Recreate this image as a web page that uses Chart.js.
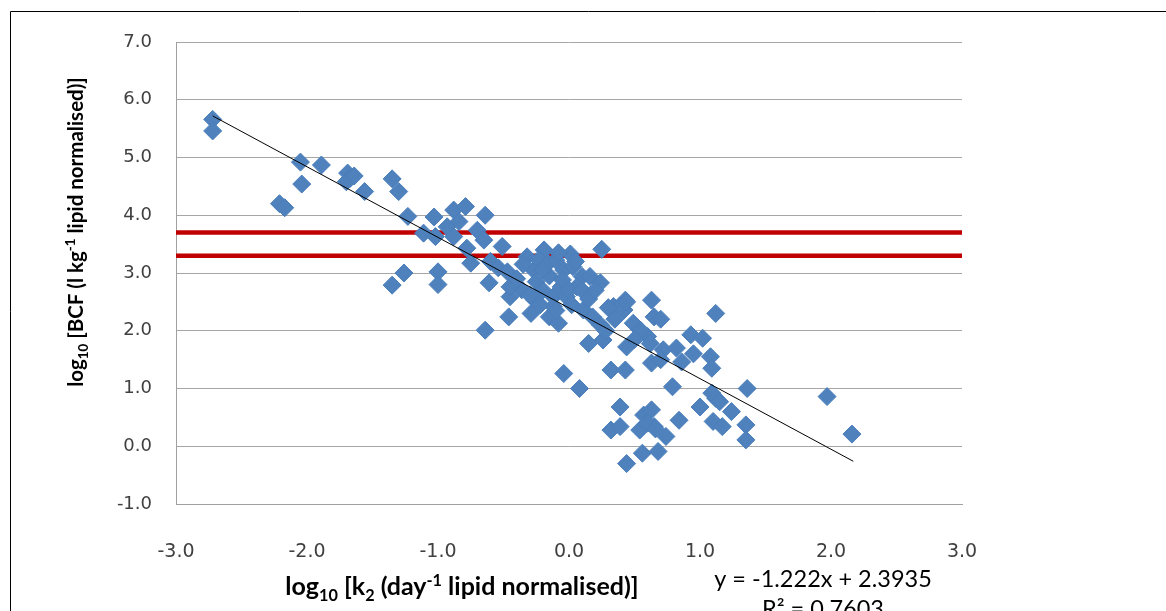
<!DOCTYPE html>
<html>
<head>
<meta charset="utf-8">
<script src="https://cdn.jsdelivr.net/npm/chart.js@4"></script>
<style>
  body { margin: 0; background: #fff; }
  canvas { display: block; }
</style>
</head>
<body>
<canvas id="myChart" width="1166" height="611"></canvas>
<script>
// log10 k2 (x) and log10 BCF (y)
var logK2 = [
  -2.72, -2.72, -2.21, -2.17, -2.05, -2.04, -1.89, -1.69, -1.67, -1.70,
  -1.64, -1.56, -1.35, -1.30, -1.23, -1.35, -1.26, -1.00, -1.00, -1.03,
  -1.11, -1.02, -0.88, -0.79, -0.93, -0.84, -0.88, -0.70, -0.64, -0.65,
  -0.75, -0.78, -0.51, -0.60, -0.54, -0.61, -0.47, -0.45, -0.36, -0.32,
  -0.27, -0.26, -0.46, -0.29, -0.64,
  -0.19, -0.23, -0.16, 0.01, 0.25, -0.04, 0.03, 0.10, 0.16, 0.24,
  0.06, -0.06, -0.12, -0.02, -0.45, -0.15, -0.08, -0.12, 0.11, 0.18,
  0.24, 0.15, 0.26, 0.34, 0.43, 0.42, 0.63, 0.65, 0.49, 0.60,
  0.44, 0.63, 0.72, -0.04, 0.08, 0.32, 0.43, 0.39, 0.44, 1.12,
  0.82, 0.86, 0.93, 1.02, 1.08, 1.09, 0.79, 1.00, 1.12, 1.24,
  1.36, 1.10, 1.17, 1.35, 1.35, 0.39, 0.32, 0.39, 0.57, 0.63,
  0.54, 0.65, 0.74, 0.84, 0.56, 0.68, 0.44, 1.97, 2.16, 1.09,
  1.15, -0.35, -0.25, -0.15, -0.05, -0.10, 0.00, 0.10, -0.20, -0.40,
  0.05, -0.30, 0.15, 0.20, 0.30, 0.35, 0.55, 0.50, 0.70, 0.62,
  0.70, 0.95, 0.28, -0.10, -0.22, 0.60, 0.66, -0.20, -0.08, 0.02
];
var logBCF = [
  5.66, 5.46, 4.20, 4.13, 4.92, 4.54, 4.87, 4.73, 4.64, 4.58,
  4.68, 4.41, 4.63, 4.41, 3.98, 2.79, 3.00, 3.02, 2.80, 3.97,
  3.69, 3.63, 4.09, 4.15, 3.80, 3.89, 3.63, 3.74, 4.00, 3.57,
  3.17, 3.43, 3.46, 3.20, 3.09, 2.83, 3.02, 2.59, 2.71, 3.28,
  3.05, 2.53, 2.24, 2.30, 2.01,
  3.40, 3.23, 3.17, 3.33, 3.41, 3.05, 3.11, 2.94, 2.94, 2.83,
  2.76, 2.76, 2.59, 2.59, 2.76, 2.24, 2.13, 2.42, 2.36, 2.24,
  2.10, 1.78, 1.84, 2.42, 2.53, 2.36, 2.53, 2.24, 2.13, 1.90,
  1.72, 1.44, 1.67, 1.26, 1.00, 1.32, 1.32, 2.42, 2.50, 2.30,
  1.70, 1.46, 1.93, 1.87, 1.55, 1.35, 1.03, 0.68, 0.83, 0.60,
  1.00, 0.43, 0.34, 0.37, 0.11, 0.68, 0.28, 0.34, 0.54, 0.63,
  0.28, 0.34, 0.17, 0.45, -0.12, -0.09, -0.30, 0.86, 0.21, 0.92,
  0.77, 3.15, 2.85, 2.95, 2.88, 3.22, 2.70, 2.70, 2.70, 2.90,
  3.20, 2.62, 2.55, 2.70, 2.40, 2.20, 2.00, 1.85, 2.20, 1.78,
  1.50, 1.60, 2.00, 2.35, 2.45, 0.40, 0.30, 3.05, 3.35, 2.45
];

// linear trend line end points
var trendX = [-2.72, 2.17];
var trendY = [5.72, -0.26];

// the two red threshold lines
var thresholds = [3.7, 3.3];
var xTicks = [-3, -2, -1, 0, 1, 2, 3];
var yTicks = [-1, 0, 1, 2, 3, 4, 5, 6, 7];

var equationText = 'y = -1.222x + 2.3935';
var r2Text = 'R² = 0.7603';

var ctx = document.getElementById('myChart').getContext('2d');

var points = logK2.map(function(x, i) { return { x: x, y: logBCF[i] }; });
var trend = trendX.map(function(x, i) { return { x: x, y: trendY[i] }; });

var redSets = thresholds.map(function(t) {
  return {
    type: 'line',
    data: [{ x: xTicks[0], y: t }, { x: xTicks[xTicks.length - 1], y: t }],
    borderColor: '#c00000',
    borderWidth: 4.5,
    pointRadius: 0,
    order: 2
  };
});

var FAMILY = 'Lato, "Liberation Sans", sans-serif';

// text made of pieces, some raised or lowered
function measureRich(c, parts, size, bold) {
  var w = 0;
  parts.forEach(function(p) {
    var s = p.sub || p.sup ? size * 0.65 : size;
    c.font = (bold ? 'bold ' : '') + s + 'px ' + FAMILY;
    p.w = c.measureText(p.t).width;
    p.s = s;
    w += p.w;
  });
  return w;
}
function drawRich(c, parts, x, y, size, bold) {
  var w = measureRich(c, parts, size, bold);
  var cx = x - w / 2;
  parts.forEach(function(p) {
    c.font = (bold ? 'bold ' : '') + p.s + 'px ' + FAMILY;
    var dy = p.sub ? size * 0.25 : (p.sup ? -size * 0.38 : 0);
    c.fillText(p.t, cx, y + dy);
    cx += p.w;
  });
}

var xTitle = [
  { t: 'log' }, { t: '10', sub: true }, { t: ' [k' }, { t: '2', sub: true },
  { t: ' (day' }, { t: '-1', sup: true }, { t: ' lipid normalised)]' }
];
var yTitle = [
  { t: 'log' }, { t: '10', sub: true }, { t: ' [BCF (l kg' }, { t: '-1', sup: true },
  { t: ' lipid normalised)]' }
];

var extras = {
  id: 'extras',
  beforeDraw: function(chart) {
    var c = chart.ctx;
    c.save();
    c.strokeStyle = '#000';
    c.lineWidth = 1;
    c.beginPath();
    c.moveTo(10.5, 611);
    c.lineTo(10.5, 11.5);
    c.lineTo(1166, 11.5);
    c.stroke();
    c.restore();
  },
  afterDraw: function(chart) {
    var c = chart.ctx;
    c.save();
    c.fillStyle = '#000';
    c.textBaseline = 'alphabetic';
    drawRich(c, xTitle, 462, 595, 25, true);
    c.translate(83, 232);
    c.rotate(-Math.PI / 2);
    drawRich(c, yTitle, 0, 0, 20.5, true);
    c.restore();

    c.save();
    c.fillStyle = '#000';
    c.textAlign = 'center';
    c.font = '23.5px ' + FAMILY;
    c.fillText(equationText, 823, 587);
    c.fillText(r2Text, 823, 617);
    c.restore();
  }
};

var config = {
  type: 'scatter',
  data: {
    datasets: [{
      data: trend,
      type: 'line',
      borderColor: '#000',
      borderWidth: 1,
      pointRadius: 0,
      order: 0
    }, {
      data: points,
      pointStyle: 'rectRot',
      pointRadius: 9,
      backgroundColor: '#4f81bd',
      borderColor: '#4a7ebb',
      borderWidth: 1,
      order: 1
    }].concat(redSets)
  },
  options: {
    responsive: false,
    animation: false,
    layout: { padding: { top: 42, right: 204, left: 0, bottom: 0 } },
    plugins: { legend: { display: false }, tooltip: { enabled: false } },
    scales: {
      x: {
        type: 'linear',
        min: -3, max: 3,
        afterBuildTicks: function(s) { s.ticks = xTicks.map(function(v) { return { value: v }; }); },
        afterFit: function(s) { s.height = 107; },
        grid: { display: false },
        border: { display: true, color: '#a0a0a0', width: 1 },
        ticks: {
          padding: 29,
          color: '#404040',
          font: { family: '"DejaVu Sans"', size: 19 },
          callback: function(v) { return v.toFixed(1); }
        }
      },
      y: {
        min: -1, max: 7,
        afterBuildTicks: function(s) { s.ticks = yTicks.map(function(v) { return { value: v }; }); },
        afterFit: function(s) { s.width = 176; },
        grid: { color: '#a6a6a6', lineWidth: 1, drawTicks: false },
        border: { display: true, color: '#a0a0a0', width: 1 },
        ticks: {
          padding: 24,
          color: '#404040',
          font: { family: '"DejaVu Sans"', size: 18 },
          callback: function(v) { return v.toFixed(1); }
        }
      }
    }
  },
  plugins: [extras]
};

var chart = new Chart(ctx, config);
</script>
</body>
</html>
